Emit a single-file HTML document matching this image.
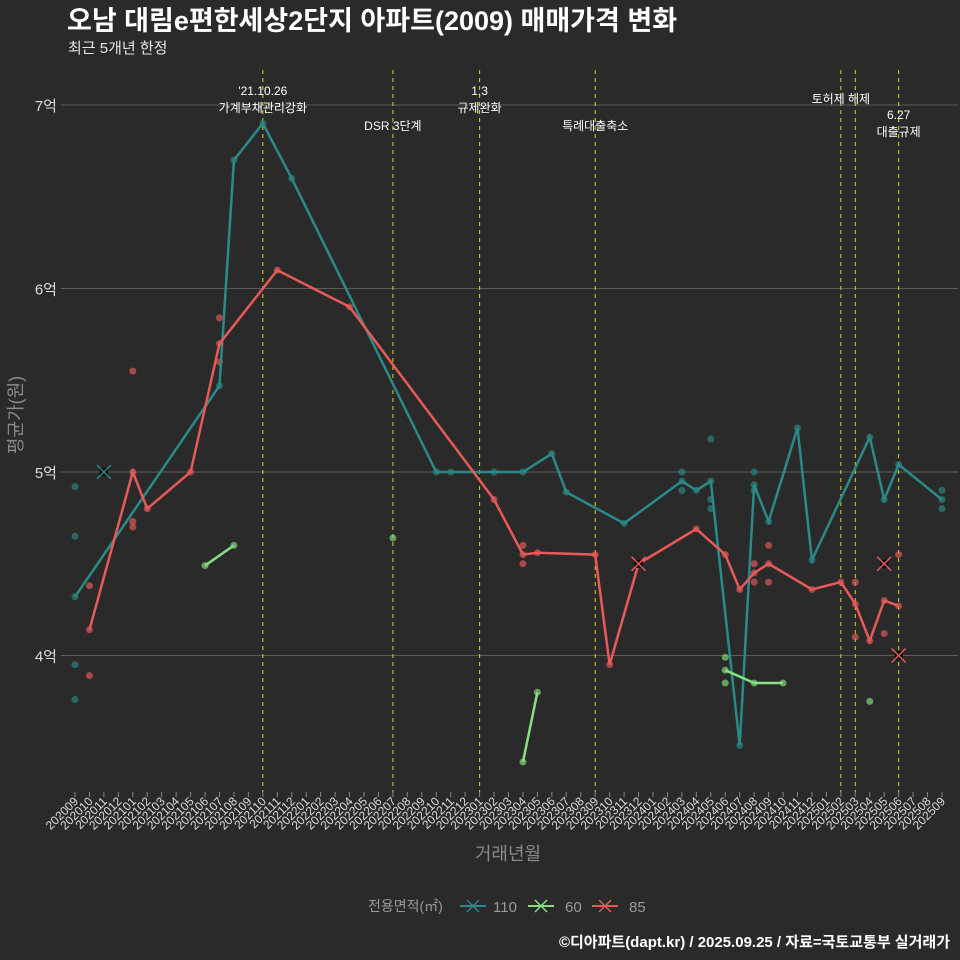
<!DOCTYPE html>
<html><head><meta charset="utf-8">
<style>
html,body{margin:0;padding:0;background:#2b2a2a;}
svg{display:block;font-family:"Liberation Sans","Noto Sans CJK KR",sans-serif;}
</style></head>
<body>
<svg id="chart" width="960" height="960" viewBox="0 0 960 960">
<rect x="0" y="0" width="960" height="960" fill="#2b2a2a"/>
<text x="67" y="30" fill="#ffffff" font-size="27" font-weight="bold">오남 대림e편한세상2단지 아파트(2009) 매매가격 변화</text>
<text x="68" y="53" fill="#e8e8e8" font-size="15">최근 5개년 한정</text>
<g id="grid"></g>
<g id="vlines"></g>
<g id="series"></g>
<g id="xaxis"></g>
<text transform="translate(22,415) rotate(-90)" text-anchor="middle" fill="#8a8a8a" font-size="18">평균가(원)</text>
<text x="508" y="860" text-anchor="middle" fill="#8a8a8a" font-size="18">거래년월</text>
<g>
<text x="368" y="911" fill="#9a9a9a" font-size="14">전용면적(㎡)</text>
<g><line x1="460" y1="906" x2="486" y2="906" stroke="#2a8a88" stroke-width="2"/><path d="M467,900 L479,912 M479,900 L467,912" stroke="#2a8a88" stroke-width="1.5"/><text x="493" y="912" fill="#9a9a9a" font-size="15">110</text></g>
<g><line x1="528" y1="906" x2="554" y2="906" stroke="#86e07f" stroke-width="2"/><path d="M535,900 L547,912 M547,900 L535,912" stroke="#86e07f" stroke-width="1.5"/><text x="565" y="912" fill="#9a9a9a" font-size="15">60</text></g>
<g><line x1="592" y1="906" x2="618" y2="906" stroke="#e85a5a" stroke-width="2"/><path d="M599,900 L611,912 M611,900 L599,912" stroke="#e85a5a" stroke-width="1.5"/><text x="629" y="912" fill="#9a9a9a" font-size="15">85</text></g>
</g>
<text x="950" y="947" text-anchor="end" fill="#ffffff" font-size="15" font-weight="bold">©디아파트(dapt.kr) / 2025.09.25 / 자료=국토교통부 실거래가</text>
</svg>
<script>
// data (month index 0 = 2020-09; values in 억)
const months = [];
for (let i = 0; i <= 60; i++) { const y = 2020 + Math.floor((8 + i) / 12); const m = (8 + i) % 12 + 1; months.push(String(y) + String(m).padStart(2, '0')); }
const yTicks = [4, 5, 6, 7];
const yTickLabels = ['4억', '5억', '6억', '7억'];
const s110Idx = [0, 10, 11, 13, 15, 25, 26, 29, 31, 33, 34, 38, 42, 43, 44, 46, 47, 48, 50, 51, 55, 56, 57, 60];
const s110Val = [4.32, 5.47, 6.70, 6.90, 6.60, 5.0, 5.0, 5.0, 5.0, 5.10, 4.89, 4.72, 4.95, 4.90, 4.95, 3.51, 4.93, 4.73, 5.24, 4.52, 5.19, 4.85, 5.04, 4.85];
const s110PtIdx = [0, 0, 0, 0, 42, 42, 44, 44, 44, 47, 47, 60, 60];
const s110PtVal = [4.92, 4.65, 3.95, 3.76, 5.0, 4.90, 5.18, 4.85, 4.80, 5.0, 4.90, 4.90, 4.80];
const s85Idx = [1, 4, 5, 8, 10, 14, 19, 29, 31, 32, 36, 37, 39, 43, 45, 46, 47, 48, 51, 53, 54, 55, 56, 57];
const s85Val = [4.14, 5.0, 4.80, 5.0, 5.70, 6.10, 5.90, 4.85, 4.55, 4.56, 4.55, 3.95, 4.50, 4.69, 4.55, 4.36, 4.45, 4.50, 4.36, 4.40, 4.28, 4.08, 4.30, 4.27];
const s85PtIdx = [1, 1, 4, 4, 4, 10, 10, 31, 31, 47, 47, 48, 48, 54, 54, 56, 57];
const s85PtVal = [4.38, 3.89, 5.55, 4.73, 4.70, 5.84, 5.60, 4.60, 4.50, 4.50, 4.40, 4.60, 4.40, 4.40, 4.10, 4.12, 4.55];
const s60Segs = [[9, 11], [31, 32], [45, 47, 49]];
const s60SegVal = [[4.49, 4.60], [3.42, 3.80], [3.92, 3.85, 3.85]];
const s60PtIdx = [22, 45, 45, 55];
const s60PtVal = [4.64, 3.99, 3.85, 3.75];
const markIdx = [2, 39, 56, 57];
const markVal = [5.0, 4.50, 4.50, 4.0];
const markCol = ['#2a8a88', '#e85a5a', '#e85a5a', '#e85a5a'];
const eventIdx = [13, 22, 28, 36, 53, 54, 57];
const eventLabels = [["'21.10.26", "가계부채관리강화"], ["DSR 3단계"], ["1.3", "규제완화"], ["특례대출축소"], ["토허제 해제"], [], ["6.27", "대출규제"]];
const eventLabelY = [95, 130, 95, 130, 103, 0, 119];

const NS = 'http://www.w3.org/2000/svg';
const xOf = i => 75 + i * 14.45;
const yOf = v => 472 - (v - 5) * 183.5;
function mk(tag, attrs, parent) { const e = document.createElementNS(NS, tag); for (const k in attrs) e.setAttribute(k, attrs[k]); parent.appendChild(e); return e; }
const grid = document.getElementById('grid'), vl = document.getElementById('vlines'), ser = document.getElementById('series'), xa = document.getElementById('xaxis');

yTicks.forEach((v, k) => {
  const l = mk('line', { x1: 61, x2: 958, y1: yOf(v), y2: yOf(v), stroke: '#5c5c5c', 'stroke-width': 1 }, grid);
  
  
  const t = mk('text', { x: 57, y: yOf(v) + 6, 'text-anchor': 'end', fill: '#dddddd', 'font-size': 15 }, grid);
  t.textContent = yTickLabels[k];
  
  
});

eventIdx.forEach((ix, k) => {
  const x = xOf(ix);
  const l = mk('line', { x1: x, x2: x, y1: 70, y2: 792, stroke: '#d8d820', 'stroke-width': 1, 'stroke-dasharray': '4,4' }, vl);
  
  
  eventLabels[k].forEach((s, j) => {
    const t = mk('text', { x: x, y: eventLabelY[k] + j * 17, 'text-anchor': 'middle', fill: '#ffffff', 'font-size': 12 }, vl);
    t.textContent = s;
    
    
  });
});

function dots(idx, val, col, name) {
  idx.forEach((ix, k) => {
    const c = mk('circle', { cx: xOf(ix), cy: yOf(val[k]), r: 3.5, fill: col, 'fill-opacity': 0.65 }, ser);
    
    
  });
}
function line(idx, val, col, name) {
  const p = mk('polyline', { points: idx.map((ix, k) => xOf(ix) + ',' + yOf(val[k])).join(' '), fill: 'none', stroke: col, 'stroke-width': 2.5 }, ser);
  
  
  dots(idx, val, col, name + '-point');
}
dots(s110PtIdx, s110PtVal, '#2a8a88', 'point-110');
dots(s85PtIdx, s85PtVal, '#e85a5a', 'point-85');
dots(s60PtIdx, s60PtVal, '#86e07f', 'point-60');
line(s110Idx, s110Val, '#2a8a88', 'line-110');
line(s85Idx, s85Val, '#e85a5a', 'line-85');
s60Segs.forEach((seg, k) => line(seg, s60SegVal[k], '#86e07f', 'line-60'));
markIdx.forEach((ix, k) => {
  const x = xOf(ix), y = yOf(markVal[k]);
  const r = mk('rect', { x: x - 4, y: y - 4, width: 8, height: 8, fill: '#000' }, ser);
  
  
  const p = mk('path', { d: `M${x - 7},${y - 7} L${x + 7},${y + 7} M${x + 7},${y - 7} L${x - 7},${y + 7}`, stroke: markCol[k], 'stroke-width': 1.5 }, ser);
  
  
});

months.forEach((m, i) => {
  const x = xOf(i);
  const t = mk('line', { x1: x, x2: x, y1: 792, y2: 797, stroke: '#888', 'stroke-width': 1 }, xa);
  
  
  const l = mk('text', { transform: `translate(${x + 4},${802}) rotate(-45)`, 'text-anchor': 'end', fill: '#dddddd', 'font-size': 12 }, xa);
  l.textContent = m;
  
  
});
</script>
</body></html>
